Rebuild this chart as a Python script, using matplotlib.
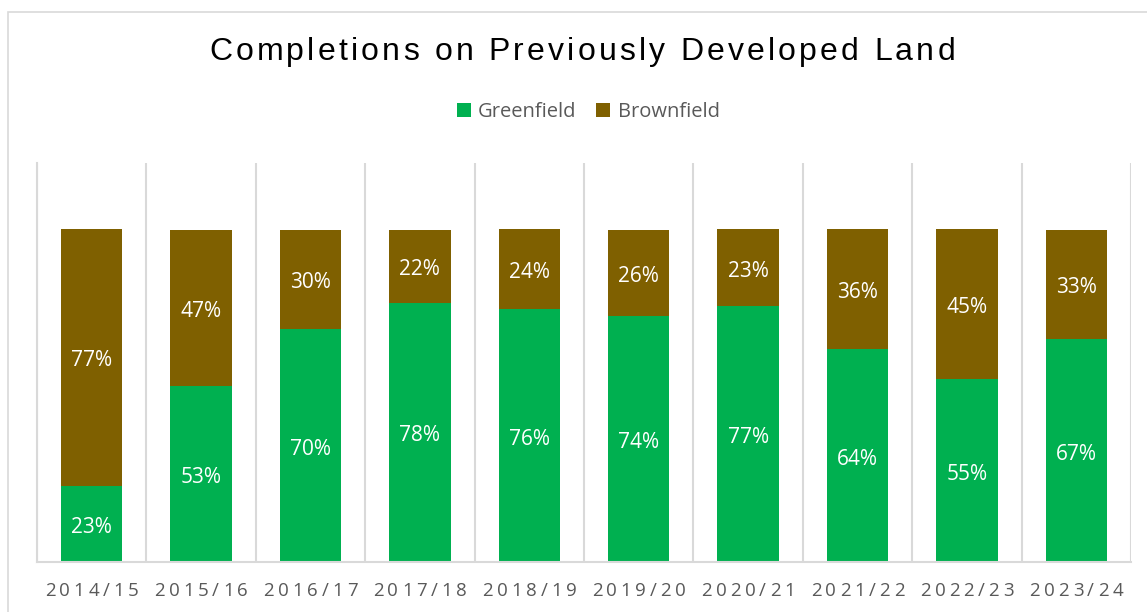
import matplotlib.pyplot as plt
import numpy as np
from matplotlib.patches import Rectangle

years = ["2014/15", "2015/16", "2016/17", "2017/18", "2018/19",
         "2019/20", "2020/21", "2021/22", "2022/23", "2023/24"]
greenfield = [23, 53, 70, 78, 76, 74, 77, 64, 55, 67]
brownfield = [77, 47, 30, 22, 24, 26, 23, 36, 45, 33]
title = "Completions on Previously Developed Land"

green_col = "#00B050"
brown_col = "#7F6000"
grey_txt = "#595959"
grid_col = "#D9D9D9"

plt.rcParams['font.family'] = ['Open Sans', 'DejaVu Sans']

W, H = 1147, 612
fig = plt.figure(figsize=(W / 100, H / 100), dpi=100)
renderer = fig.canvas.get_renderer()
ax = fig.add_axes([37 / W, 1 - 562 / H, (1131 - 37) / W, (562 - 163) / H])


def spaced_text(xc, yc, s, spacing, **kw):
    # Excel-style letter spacing: place chars one by one, centred on xc (pixels)
    probes = [fig.text(0, 0, ch, **kw) for ch in s]
    widths = []
    for p in probes:
        widths.append(p.get_window_extent(renderer).width)
        p.remove()
    total = sum(widths) + spacing * (len(s) - 1)
    xp = xc - total / 2
    for ch, w in zip(s, widths):
        fig.text(xp / W, 1 - yc / H, ch, ha="left", va="center", **kw)
        xp += w + spacing


x = np.arange(len(years))
g = np.array(greenfield) / 100
b = np.array(brownfield) / 100
ax.bar(x, g, width=0.56, color=green_col, label="Greenfield")
ax.bar(x, b, width=0.56, bottom=g, color=brown_col, label="Brownfield")

for i in range(len(years)):
    ax.annotate(f"{greenfield[i]}%", (x[i], g[i] / 2), xytext=(0, -2.5),
                textcoords="offset points", ha="center", va="center",
                color="white", fontsize=15)
    ax.annotate(f"{brownfield[i]}%", (x[i], g[i] + b[i] / 2), xytext=(0, -2.5),
                textcoords="offset points", ha="center", va="center",
                color="white", fontsize=15)

ax.set_xlim(-0.5, len(years) - 0.5)
ax.set_ylim(0, 1.2)
ax.set_yticks([])
ax.set_xticks(np.arange(-0.5, len(years), 1), minor=True)
ax.set_xticks([])
ax.tick_params(axis="x", which="minor", length=0)
ax.grid(axis="x", which="minor", color=grid_col, linewidth=1.5)
ax.set_axisbelow(True)
for s in ["top", "right"]:
    ax.spines[s].set_visible(False)
for s in ["left", "bottom"]:
    ax.spines[s].set_color(grid_col)
    ax.spines[s].set_linewidth(1.5)

# category labels with letter spacing
for i, yr in enumerate(years):
    xc = ax.transData.transform((x[i], 0))[0]
    spaced_text(xc, 591, yr, 3.8, fontsize=13.5, color=grey_txt)

spaced_text(582, 52, title, 3.2, fontsize=23, color="black",
            family=["Liberation Sans", "DejaVu Sans"])

leg = fig.legend(loc="center", bbox_to_anchor=(0.5127, 1 - 112 / H), ncol=2,
                 frameon=False, fontsize=14.5, handlelength=0.7, handleheight=0.7,
                 columnspacing=1.0, handletextpad=0.35)
for t in leg.get_texts():
    t.set_color(grey_txt)

fig.patches.append(Rectangle((8 / W, -0.1), 1.2, 1.1 - 12 / H,
                             transform=fig.transFigure, fill=False,
                             edgecolor=grid_col, linewidth=1.2))

plt.savefig("out.png", dpi=100)
